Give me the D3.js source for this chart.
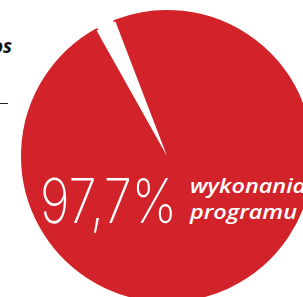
<!DOCTYPE html>
<meta charset="utf-8">
<script src="https://d3js.org/d3.v7.min.js"></script>
<style>
body { margin: 0; background: #fff; }
svg { display: block; }
</style>
<body>
<script>
// data
var labels = ["wykonanie", "reszta"];
var values = [97.7, 2.3];
var colors = ["#d2232b", "#ffffff"];
var bigLabel = "97,7%";
var subLabel = ["wykonania", "programu"];

var width = 303, height = 297;
var cx = 167, cy = 156, radius = 146;

var svg = d3.select("body").append("svg")
    .attr("width", width)
    .attr("height", height);

// cut-off heading text and rule from the left column
svg.append("text")
    .attr("x", 12)
    .attr("y", 53)
    .attr("text-anchor", "end")
    .attr("font-family", "'Open Sans', sans-serif")
    .attr("font-weight", 700)
    .attr("font-style", "italic")
    .attr("font-size", 19)
    .attr("fill", "#111")
    .text("os");

svg.append("line")
    .attr("x1", 0).attr("x2", 8)
    .attr("y1", 103.5).attr("y2", 103.5)
    .attr("stroke", "#222")
    .attr("stroke-width", 1);

var start = -21 * Math.PI / 180;
var pie = d3.pie().sort(null)
    .startAngle(start)
    .endAngle(start + 2 * Math.PI);

var arc = d3.arc().innerRadius(0).outerRadius(radius - 2);

var g = svg.append("g").attr("transform", "translate(" + cx + "," + cy + ")");

g.selectAll("path")
    .data(pie(values))
    .enter()
    .append("path")
    .attr("d", arc)
    .attr("fill", function(d, i) { return colors[i]; })
    .attr("stroke", function(d, i) { return i == 0 ? colors[0] : "none"; })
    .attr("stroke-width", 4)
    .attr("stroke-linejoin", "round");

// big number
svg.append("text")
    .attr("x", 40)
    .attr("y", 223)
    .attr("font-family", "Inter, 'Open Sans', sans-serif")
    .attr("font-weight", 200)
    .attr("font-size", 62)
    .attr("fill", "#fff")
    .attr("textLength", 137)
    .attr("lengthAdjust", "spacingAndGlyphs")
    .text(bigLabel);

// two-line caption
var cap = svg.selectAll(".cap")
    .data(subLabel)
    .enter()
    .append("text")
    .attr("class", "cap")
    .attr("x", 190)
    .attr("y", function(d, i) { return 193 + i * 26; })
    .attr("font-family", "'Open Sans', sans-serif")
    .attr("font-weight", 600)
    .attr("font-style", "italic")
    .attr("font-size", 19)
    .attr("fill", "#fff")
    .text(function(d) { return d; });

// stretch captions so "programu" ends where it does in the picture
var natural = cap.nodes()[1].getComputedTextLength();
var k = 107 / natural;
cap.attr("textLength", function() { return this.getComputedTextLength() * k; })
   .attr("lengthAdjust", "spacingAndGlyphs");
</script>
</body>
